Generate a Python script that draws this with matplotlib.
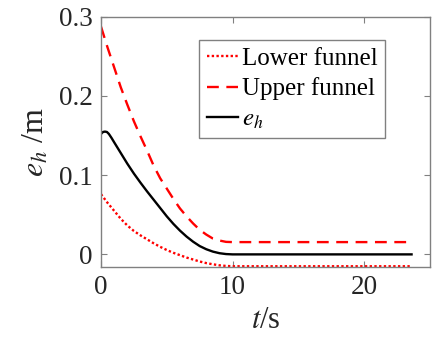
import matplotlib
matplotlib.use("Agg")
import matplotlib.pyplot as plt

# Data
t_upper = [0, 0.5, 1.0, 1.5, 2.0, 2.5, 3.0, 3.5, 4.0, 4.5, 5.0, 5.5, 6.0, 6.5, 7.0, 7.5, 8.0, 8.5, 9.0, 9.5, 10.0, 23.6]
upper = [0.2875, 0.261, 0.236, 0.211, 0.189, 0.168, 0.149, 0.131, 0.112, 0.096, 0.083, 0.070, 0.058, 0.048, 0.039, 0.031, 0.025, 0.020, 0.0175, 0.0158, 0.0155, 0.0155]

t_lower = [0, 0.5, 1.0, 1.5, 2.0, 2.5, 3.0, 3.5, 4.0, 4.5, 5.0, 5.5, 6.0, 6.5, 7.0, 7.5, 8.0, 8.5, 9.0, 9.5, 10.0, 23.6]
lower = [0.076, 0.065, 0.055, 0.045, 0.0365, 0.0295, 0.024, 0.019, 0.014, 0.0095, 0.0055, 0.002, -0.001, -0.004, -0.0065, -0.009, -0.011, -0.0125, -0.0138, -0.0146, -0.015, -0.015]

t_e = [0, 0.15, 0.3, 0.45, 0.6, 0.8, 1.0, 1.5, 2.0, 2.5, 3.0, 3.5, 4.0, 4.5, 5.0, 5.5, 6.0, 6.5, 7.0, 7.5, 8.0, 8.5, 9.0, 9.5, 10.0, 23.6]
e_h = [0.152, 0.1545, 0.155, 0.1545, 0.152, 0.147, 0.1415, 0.128, 0.1145, 0.102, 0.0905, 0.0795, 0.069, 0.0585, 0.048, 0.0385, 0.030, 0.0225, 0.016, 0.0105, 0.0065, 0.0035, 0.0015, 0.0004, 0.0, 0.0]

xticks = [0, 10, 20]
yticks = [0, 0.1, 0.2, 0.3]
yticklabels = ["0", "0.1", "0.2", "0.3"]

plt.rcParams['font.family'] = ['Liberation Serif', 'DejaVu Serif']
plt.rcParams['mathtext.fontset'] = 'stix'

fig = plt.figure(figsize=(4.38, 3.41), dpi=100)
ax = fig.add_axes([0.2306, 0.218, 0.7511, 0.733])

ax.plot(t_lower, lower, color='#ff0000', lw=1.7, linestyle=(0, (1, 1)), label='Lower funnel')
ax.plot(t_upper, upper, color='#ff0000', lw=1.7, linestyle=(0, (5, 3.2)), label='Upper funnel')
ax.plot(t_e, e_h, color='black', lw=1.7, label=r'$e_{h}$')

ax.set_xlim(0, 25)
ax.set_ylim(-0.0155, 0.3)
ax.set_xticks(xticks)
ax.set_yticks(yticks)
ax.set_yticklabels(yticklabels)

gray = '#808080'
for sp in ax.spines.values():
    sp.set_color(gray)
    sp.set_linewidth(1.0)
ax.tick_params(direction='in', top=True, right=True, length=4, width=0.8,
               colors=gray, labelcolor='#262626', labelsize=19.5, pad=6)

ax.set_xlabel(r'$t$/s', fontsize=22, color='#262626', labelpad=4)
ax.set_ylabel(r'$e_h$ /m', fontsize=23, color='#262626', labelpad=6)

leg = ax.legend(loc='upper right', bbox_to_anchor=(0.863, 0.907), borderaxespad=0,
                fontsize=18, frameon=True, fancybox=False, framealpha=1,
                handlelength=1.25, handletextpad=0.15, labelspacing=0.3,
                borderpad=0.3)
leg.get_frame().set_edgecolor(gray)
leg.get_frame().set_linewidth(1.0)

fig.savefig('out.png', dpi=100)
